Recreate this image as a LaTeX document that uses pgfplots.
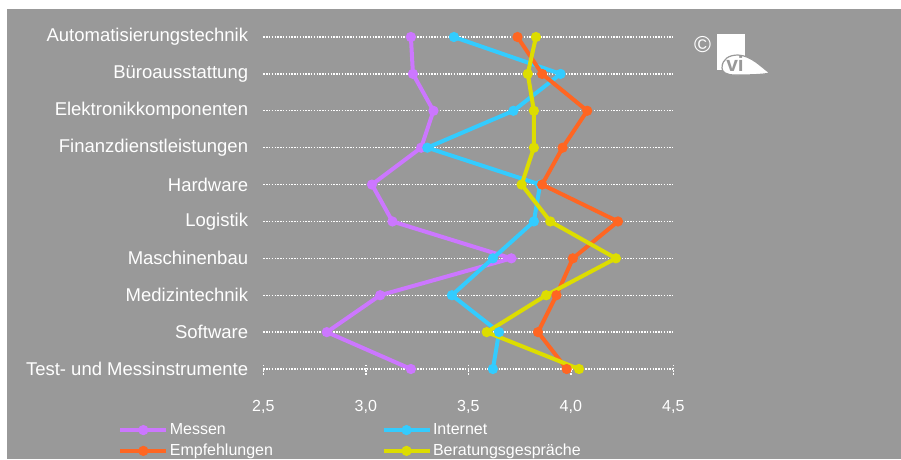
\documentclass[border=0pt]{standalone}
\usepackage{fontspec}
\setmainfont{Liberation Sans}
\usepackage{pgfplots}
\pgfplotsset{compat=1.18}

\definecolor{bg}{HTML}{999999}
\definecolor{cMessen}{HTML}{CC77FF}
\definecolor{cInternet}{HTML}{33CCFF}
\definecolor{cEmpf}{HTML}{FF6622}
\definecolor{cBerat}{HTML}{DDDD00}

\pgfplotsset{
  serie/.style={#1, line width=4pt, mark=*, mark size=4.6pt,
    mark options={solid, line width=1pt, fill=#1}},
}

\begin{document}
\begin{tikzpicture}
% page and grey panel
\path[use as bounding box] (0,0) rectangle (901pt,-459pt);
\fill[white] (0,0) rectangle (901pt,-459pt);
\fill[bg] (7pt,-9pt) rectangle (901pt,-459pt);

\begin{axis}[
  at={(263.3pt,-369pt)}, anchor=south west,
  scale only axis, width=410pt, height=332pt,
  xmin=2.5, xmax=4.5, ymin=1, ymax=10,
  clip=false,
  axis line style={draw=none},
  xtick={2.5,3,3.5,4,4.5},
  ytick={1,...,10},
  yticklabels={Test- und Messinstrumente, Software, Medizintechnik,
    Maschinenbau, Logistik, Hardware, Finanzdienstleistungen,
    Elektronikkomponenten, Büroausstattung, Automatisierungstechnik},
  ymajorgrids,
  major grid style={white, line width=1.4pt, dash pattern=on 1.4pt off 1.4pt},
  xtick pos=left, ytick pos=left,
  tick align=center, major tick length=11pt,
  xtick style={white, line width=1.4pt, dash pattern=on 1.4pt off 1.4pt},
  ytick style={draw=none},
  /pgf/number format/assume math mode=true,
  /pgf/number format/.cd, use comma, fixed, fixed zerofill, precision=1,
  /pgfplots/.cd,
  xticklabel style={font=\fontsize{16}{16}\selectfont, text=white,
    anchor=north, yshift=-22pt},
  yticklabel style={font=\fontsize{18.5}{18.5}\selectfont, text=white,
    anchor=east, inner sep=0pt, xshift=-9.5pt},
  legend style={at={(-0.354,-0.160)}, anchor=north west, draw=none,
    fill=none, inner sep=0pt, legend columns=2,
    font=\fontsize{16}{16}\selectfont, text=white,
    row sep=5pt,
    nodes={inner sep=1.5pt},
    /tikz/every even column/.append style={column sep=107pt}},
  legend cell align=left,
  legend image code/.code={
    \draw[mark repeat=2, mark phase=2, #1]
      plot coordinates {(0pt,0pt) (23pt,0pt) (46pt,0pt)};},
]
\addplot[serie=cMessen] coordinates {
  (3.22,10) (3.23,9) (3.33,8) (3.27,7) (3.03,6)
  (3.13,5) (3.71,4) (3.07,3) (2.81,2) (3.22,1)};
\addlegendentry{Messen}
\addplot[serie=cInternet] coordinates {
  (3.43,10) (3.95,9) (3.72,8) (3.30,7) (3.85,6)
  (3.82,5) (3.62,4) (3.42,3) (3.65,2) (3.62,1)};
\addlegendentry{Internet}
\addplot[serie=cEmpf] coordinates {
  (3.74,10) (3.86,9) (4.08,8) (3.96,7) (3.86,6)
  (4.23,5) (4.01,4) (3.93,3) (3.84,2) (3.98,1)};
\addlegendentry{Empfehlungen}
\addplot[serie=cBerat] coordinates {
  (3.83,10) (3.79,9) (3.82,8) (3.82,7) (3.76,6)
  (3.90,5) (4.22,4) (3.88,3) (3.59,2) (4.04,1)};
\addlegendentry{Beratungsgespräche}
\end{axis}

% publisher mark
\node[text=white, font=\fontsize{23}{23}\selectfont, inner sep=0pt] at (702.5pt,-44.5pt) {\textcopyright};
\fill[white] (717pt,-34pt) rectangle (745pt,-70pt);
\path[fill=white, draw=bg, line width=1.2pt]
  (722pt,-68pt) .. controls (722pt,-59pt) and (729pt,-55pt) .. (738pt,-55pt)
  .. controls (752pt,-56pt) and (760pt,-66pt) .. (770pt,-73pt)
  .. controls (762pt,-75pt) and (745pt,-75pt) .. (735pt,-75pt)
  .. controls (726pt,-75pt) and (722pt,-72pt) .. cycle;
\node[text=bg, font=\bfseries\fontsize{21}{21}\selectfont, inner sep=0pt, anchor=base] at (735pt,-71pt) {vi};
\end{tikzpicture}
\end{document}
